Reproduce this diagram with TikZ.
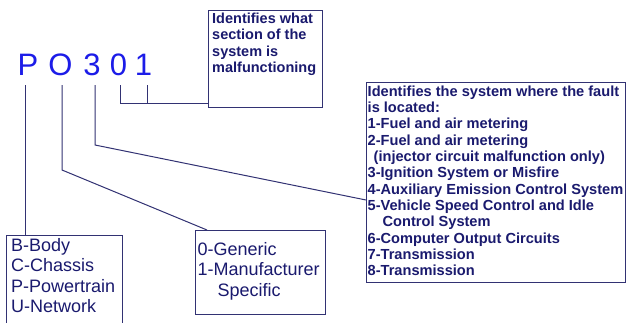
\documentclass[tikz,border=0pt]{standalone}
\usepackage{fontspec}
\setmainfont{Liberation Sans}
\definecolor{digitblue}{RGB}{28,28,232}
\definecolor{navytext}{RGB}{26,26,110}
\definecolor{navyline}{RGB}{50,50,115}
\begin{document}
\begin{tikzpicture}[x=1pt,y=-1pt,
  digit/.style={font=\fontsize{31}{31}\selectfont, text=digitblue, inner sep=0pt, anchor=base},
  box/.style={draw=navyline, line width=1.1pt, inner sep=0pt, anchor=north west},
  conn/.style={draw=navyline, line width=1pt},
  boldtext/.style={font=\bfseries\fontsize{14.5}{16.4}\selectfont, text=navytext, inner sep=0pt, anchor=north west, align=left},
  bigtext/.style={font=\bfseries\fontsize{14.6}{16.35}\selectfont, text=navytext, inner sep=0pt, anchor=north west, align=left},
  plaintext/.style={font=\fontsize{18}{20.5}\selectfont, text=navytext, inner sep=0pt, anchor=north west, align=left}
]
\clip (0,0) rectangle (627,322);
\fill[white] (0,0) rectangle (627,322);

% digits
\node[digit] (dP) at (28,75) {P};
\node[digit] (dO) at (60.5,75) {O};
\node[digit] (d3) at (92,75) {3};
\node[digit] (d0) at (118.5,75) {0};
\node[digit] (d1) at (143.5,75) {1};

% boxes
\node[box, minimum width=114pt, minimum height=97pt] (boxTop) at (208,10) {};
\node[box, minimum width=259pt, minimum height=200pt] (boxSys) at (366,82) {};
\node[box, minimum width=116pt, minimum height=110pt] (boxType) at (6,235) {};
\node[box, minimum width=130pt, minimum height=84pt] (boxGen) at (195,230) {};

% texts
\node[boldtext] (tTop) at (212,12.8) {Identifies what\\section of the\\system is\\malfunctioning};
\node[bigtext] (tSys) at (367.5,85.3) {Identifies the system where the fault\\is located:\\1-Fuel and air metering\\2-Fuel and air metering\\\hspace{6pt}(injector circuit malfunction only)\\3-Ignition System or Misfire\\4-Auxiliary Emission Control System\\5-Vehicle Speed Control and Idle\\\hspace{15pt}Control System\\6-Computer Output Circuits\\7-Transmission\\8-Transmission};
\node[plaintext] (tType) at (11,238) {B-Body\\C-Chassis\\P-Powertrain\\U-Network};
\node[plaintext] (tGen) at (197.5,242) {0-Generic\\1-Manufacturer\\\hspace{20pt}Specific};

% connector anchor points
\coordinate (cP) at (25,85);
\coordinate (cO) at (62,85);
\coordinate (cOb) at (62,170);
\coordinate (cOe) at (207,230);
\coordinate (c3) at (95,85);
\coordinate (c3b) at (95,145);
\coordinate (c3e) at (366,200);
\coordinate (c0) at (120,85);
\coordinate (c0b) at (120,103);
\coordinate (c0e) at (208,103);
\coordinate (c1) at (147,85);
\coordinate (c1b) at (147,103);

% connectors
\draw[conn] (cP) -- (cP |- boxType.north);
\draw[conn] (cO) -- (cOb) -- (cOe);
\draw[conn] (c3) -- (c3b) -- (c3e);
\draw[conn] (c0) -- (c0b) -- (c0e);
\draw[conn] (c1) -- (c1b);
\end{tikzpicture}
\end{document}
